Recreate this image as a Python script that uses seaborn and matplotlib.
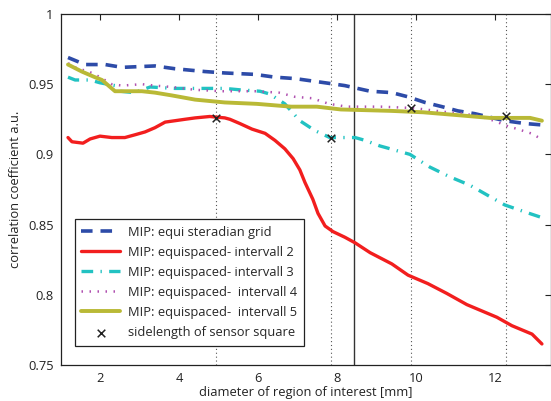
import numpy as np
import pandas as pd
import matplotlib
matplotlib.use("Agg")
import matplotlib.pyplot as plt
import seaborn as sns
from matplotlib.ticker import FuncFormatter

sns.set_theme(style="white")
plt.rcParams['font.family'] = ['Open Sans', 'DejaVu Sans']

# --- data ---
blue_x = [1.19, 1.62, 2.13, 2.56, 3.39, 3.90, 4.66, 5.16, 5.92, 6.43, 6.94, 7.70, 8.20, 8.84,
          9.39, 9.80, 10.23, 10.66, 11.06, 11.49, 12.25, 12.76, 13.19]
blue_y = [0.969, 0.964, 0.964, 0.962, 0.963, 0.961, 0.959, 0.958, 0.957, 0.955, 0.954, 0.951,
          0.949, 0.945, 0.944, 0.941, 0.937, 0.934, 0.931, 0.929, 0.924, 0.922, 0.921]

red_x = [1.19, 1.29, 1.57, 1.75, 2.00, 2.30, 2.63, 2.89, 3.14, 3.39, 3.65, 3.90, 4.15, 4.41,
         4.78, 5.16, 5.29, 5.54, 5.85, 6.18, 6.43, 6.68, 6.89, 7.06, 7.19, 7.39, 7.52, 7.70,
         7.90, 8.20, 8.46, 8.84, 9.39, 9.80, 10.05, 10.30, 10.78, 11.29, 12.05, 12.43, 12.94, 13.19]
red_y = [0.912, 0.909, 0.908, 0.911, 0.913, 0.912, 0.912, 0.914, 0.916, 0.919, 0.923, 0.924,
         0.925, 0.926, 0.927, 0.926, 0.925, 0.922, 0.918, 0.915, 0.910, 0.904, 0.897, 0.889,
         0.880, 0.868, 0.858, 0.849, 0.845, 0.841, 0.837, 0.830, 0.822, 0.814, 0.811, 0.808,
         0.801, 0.793, 0.784, 0.778, 0.772, 0.765]

cyan_x = [1.19, 1.37, 1.75, 2.00, 2.38, 2.50, 2.87, 3.27, 3.90, 4.66, 5.16, 5.54, 6.05, 6.30,
          6.68, 7.06, 7.44, 7.82, 8.20, 8.46, 8.71, 9.09, 9.22, 9.85, 10.35, 10.86, 11.37,
          11.87, 12.25, 12.76, 13.19]
cyan_y = [0.955, 0.953, 0.953, 0.951, 0.949, 0.945, 0.944, 0.948, 0.947, 0.947, 0.947, 0.946,
          0.945, 0.943, 0.936, 0.924, 0.917, 0.912, 0.912, 0.912, 0.910, 0.906, 0.905, 0.900,
          0.891, 0.884, 0.878, 0.870, 0.864, 0.859, 0.855]

mag_x = [1.19, 1.37, 1.80, 2.00, 2.30, 2.56, 3.06, 3.39, 3.82, 4.41, 5.09, 5.92, 6.53, 6.94,
         7.37, 7.80, 8.25, 9.11, 9.94, 10.81, 11.21, 11.64, 11.97, 12.33, 12.58, 12.91, 13.11]
mag_y = [0.965, 0.962, 0.958, 0.955, 0.950, 0.949, 0.950, 0.949, 0.948, 0.946, 0.945, 0.945,
         0.944, 0.941, 0.940, 0.936, 0.934, 0.934, 0.933, 0.930, 0.929, 0.927, 0.924, 0.920,
         0.918, 0.915, 0.912]

olive_x = [1.19, 1.54, 1.87, 2.05, 2.38, 2.71, 3.06, 3.39, 3.82, 4.41, 5.16, 5.97, 6.84, 7.49,
           8.10, 9.37, 10.18, 11.04, 11.87, 12.89, 13.19]
olive_y = [0.964, 0.959, 0.955, 0.953, 0.945, 0.945, 0.945, 0.944, 0.942, 0.939, 0.937, 0.936,
           0.934, 0.934, 0.932, 0.931, 0.930, 0.928, 0.926, 0.926, 0.924]

sensor_x = [4.94, 7.85, 9.87, 12.28]
sensor_y = [0.926, 0.912, 0.933, 0.927]
roi_line_x = [8.42]

series_names = ["MIP: equi steradian grid",
                "MIP: equispaced- intervall 2",
                "MIP: equispaced- intervall 3",
                "MIP: equispaced-  intervall 4",
                "MIP: equispaced-  intervall 5"]
marker_name = "sidelength of sensor square"

FS = 9.3

# --- figure ---
fig = plt.figure(figsize=(5.51, 4.01), dpi=100)
ax = fig.add_axes([60.5 / 551, 1 - 365 / 401, (551 - 60.5) / 551, (365 - 14) / 401])

for xv in sensor_x:
    ax.axvline(xv, color="#555555", lw=0.8, ls=(0, (1, 2.5)), zorder=1)
for xv in roi_line_x:
    ax.axvline(xv, color="#333333", lw=1.0, zorder=1)

styles = [
    (blue_x, blue_y, "#2D4BA8", 2.6, (0, (3.2, 2.2))),
    (red_x, red_y, "#F21E1E", 2.4, "-"),
    (cyan_x, cyan_y, "#22C2C2", 2.4, (0, (3.5, 2.2, 0.4, 2.2))),
    (mag_x, mag_y, "#B050B0", 1.8, (0, (0.6, 2.6))),
    (olive_x, olive_y, "#B9B936", 2.8, "-"),
]
for (xs, ys, c, lw, ls), name in zip(styles, series_names):
    df = pd.DataFrame({"x": xs, "y": ys})
    sns.lineplot(data=df, x="x", y="y", ax=ax, color=c, lw=lw, linestyle=ls,
                 label=name, zorder=3, estimator=None, sort=False)

dfm = pd.DataFrame({"x": sensor_x, "y": sensor_y})
sns.scatterplot(data=dfm, x="x", y="y", ax=ax, marker="x", color="#222222", s=30,
                linewidth=1.1, label=marker_name, zorder=5)

ax.set_xlim(1.0, 13.42)
ax.set_ylim(0.75, 1.0)
ax.set_xticks([2, 4, 6, 8, 10, 12])
ax.set_yticks([0.75, 0.8, 0.85, 0.9, 0.95, 1.0])
ax.yaxis.set_major_formatter(FuncFormatter(lambda v, p: f"{v:g}"))
ax.tick_params(direction="in", length=4, width=0.8, top=True, right=True,
               labelsize=FS, colors="#222222", pad=5)
for s in ax.spines.values():
    s.set_color("#222222")
    s.set_linewidth(0.9)
ax.set_xlabel("diameter of region of interest [mm]", fontsize=FS, labelpad=1, color="#222222")
ax.set_ylabel("correlation coefficient a.u.", fontsize=FS, labelpad=4, color="#222222")

leg = ax.legend(loc="lower left", bbox_to_anchor=(14.5 / 490.5, 19.5 / 351), fontsize=FS,
                frameon=True, fancybox=False, edgecolor="#222222", framealpha=1,
                handlelength=3.0, handletextpad=0.6, labelspacing=0.55, borderpad=0.5,
                borderaxespad=0)
leg.get_frame().set_linewidth(0.9)

fig.savefig("out.png", dpi=100)
